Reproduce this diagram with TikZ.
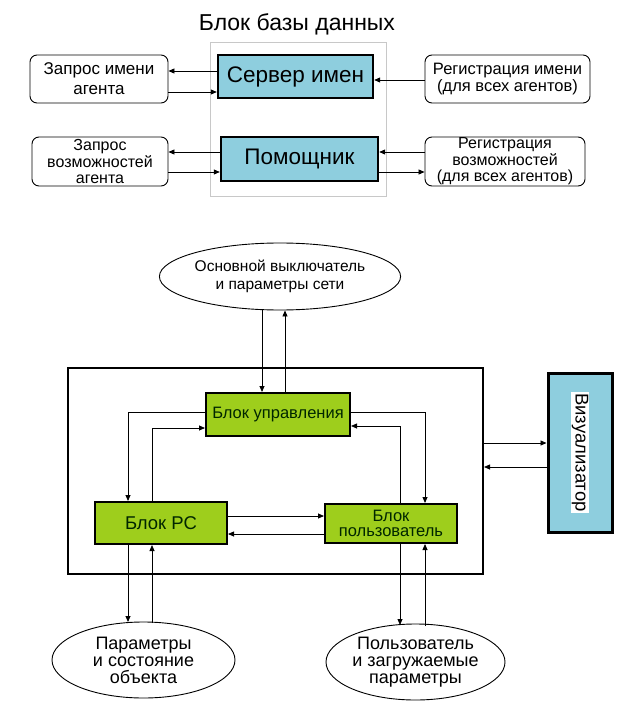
\documentclass[tikz,border=0pt]{standalone}
\usepackage{fontspec}
\setmainfont{Liberation Sans}
\usetikzlibrary{arrows.meta,shapes.geometric}
\definecolor{srvblue}{RGB}{142,206,222}
\definecolor{blkgreen}{RGB}{158,206,28}
\definecolor{framegray}{RGB}{200,200,200}
\tikzset{
  arr/.style={-{Triangle[length=6pt,width=5pt]},line width=0.8pt},
  srvbox/.style={draw,line width=2.4pt,fill=srvblue,inner sep=0pt},
  reqbox/.style={draw,line width=0.9pt,rounded corners=7pt,align=center,inner sep=0pt,font=\fontsize{17}{20}\selectfont},
  grnbox/.style={draw,line width=2pt,fill=blkgreen,inner sep=0pt,align=center,text=black!85!green},
  oval/.style={draw,ellipse,line width=0.9pt,inner sep=0pt,align=center}
}
\begin{document}
\begin{tikzpicture}[x=1pt,y=-1pt]
\useasboundingbox[fill=white] (0,0) rectangle (634,714);

% database block
\node (title) at (297,24) {\fontsize{23}{24}\selectfont Блок базы данных};
\draw[framegray,line width=0.6pt] (210,42) rectangle (386,196);
\node [srvbox,minimum width=155pt,minimum height=43pt] (srv) at (295.5,76.5) {\fontsize{22.5}{24}\selectfont Сервер имен};
\node [srvbox,minimum width=157pt,minimum height=44pt] (hlp) at (299.5,159) {\fontsize{22.5}{24}\selectfont Помощник};
\node [reqbox,minimum width=138pt,minimum height=48pt] (qname) at (99,79) {Запрос имени\\агента};
\node [reqbox,minimum width=165pt,minimum height=48pt,font=\fontsize{16.5}{17.5}\selectfont] (rname) at (507.5,79) {Регистрация имени\\(для всех агентов)};
\node [reqbox,minimum width=136pt,minimum height=49pt,font=\fontsize{16}{16.5}\selectfont] (qcap) at (100,161.5) {Запрос\\возможностей\\агента};
\node [reqbox,minimum width=160pt,minimum height=49pt,font=\fontsize{16}{16.5}\selectfont] (rcap) at (505,161.5) {Регистрация\\возможностей\\(для всех агентов)};

\draw[arr] (srv.west |- 0,71) -- (qname.east |- 0,71);
\draw[arr] (qname.east |- 0,92) -- (srv.west |- 0,92);
\draw[arr] (rname.west |- 0,80) -- (srv.east |- 0,80);
\draw[arr] (hlp.west |- 0,152) -- (qcap.east |- 0,152);
\draw[arr] (qcap.east |- 0,172) -- (hlp.west |- 0,172);
\draw[arr] (rcap.west |- 0,152) -- (hlp.east |- 0,152);
\draw[arr] (hlp.east |- 0,172) -- (rcap.west |- 0,172);

% control system
\node [oval,minimum width=206pt,minimum height=67pt,font=\fontsize{15.5}{18}\selectfont] (net) at (280,276.5) {Основной выключатель\\и параметры сети};
\node [draw,line width=2pt,minimum width=415pt,minimum height=206pt,inner sep=0pt] (sys) at (275.5,471) {};
\node [grnbox,minimum width=144pt,minimum height=43pt,font=\fontsize{16.5}{18}\selectfont] (ctl) at (278,414.5) {Блок управления};
\node [grnbox,minimum width=132pt,minimum height=42pt,font=\fontsize{18.5}{20}\selectfont] (rc) at (161,523) {Блок РС};
\node [grnbox,minimum width=132pt,minimum height=39pt,font=\fontsize{16.5}{15.5}\selectfont] (usr) at (391,523.5) {Блок\\пользователь};
\node [srvbox,line width=3pt,minimum width=64pt,minimum height=159pt] (viz) at (580,452.5) {};
\node [fill=white,inner sep=1pt,rotate=-90,font=\fontsize{18.5}{19}\selectfont] (vizt) at (viz.center) {Визуализатор};
\node [oval,minimum width=183pt,minimum height=76pt,font=\fontsize{18}{17}\selectfont] (obj) at (143.5,660) {Параметры\\и состояние\\объекта};
\node [oval,minimum width=179pt,minimum height=76pt,font=\fontsize{18}{17}\selectfont] (load) at (415.5,662) {Пользователь\\и загружаемые\\параметры};

\draw[arr] (net.south -| 262,0) -- (ctl.north -| 262,0);
\draw[arr] (ctl.north -| 285,0) -- (net.south -| 285,0);
\draw[arr] (ctl.west |- 0,412) -| (rc.north -| 128,0);
\draw[arr] (rc.north -| 152,0) |- (ctl.west |- 0,428);
\draw[arr] (ctl.east |- 0,412) -| (usr.north -| 425,0);
\draw[arr] (usr.north -| 400,0) |- (ctl.east |- 0,426);
\draw[arr] (rc.east |- 0,516) -- (usr.west |- 0,516);
\draw[arr] (usr.west |- 0,534) -- (rc.east |- 0,534);
\draw[arr] (rc.south -| 128,0) -- (128,622);
\draw[arr] (152,623) -- (rc.south -| 152,0);
\draw[arr] (usr.south -| 400,0) -- (400,625);
\draw[arr] (425,626) -- (usr.south -| 425,0);
\draw[arr] (sys.east |- 0,443) -- (viz.west |- 0,443);
\draw[arr] (viz.west |- 0,467) -- (sys.east |- 0,467);
\end{tikzpicture}
\end{document}
